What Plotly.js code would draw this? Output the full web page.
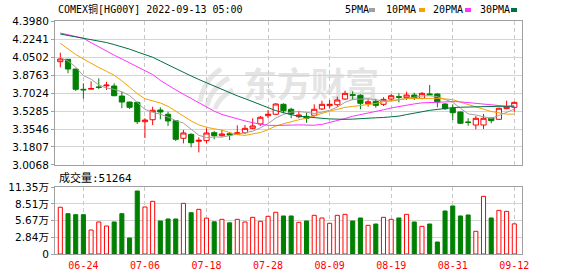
<!DOCTYPE html>
<html><head><meta charset="utf-8">
<script src="https://cdn.plot.ly/plotly-3.0.1.min.js"></script>
<style>html,body{margin:0;padding:0;background:#fff}#chart{width:578px;height:276px}</style>
</head><body><div id="chart"></div>
<script>
const dates = ['06-21','06-22','06-23','06-24','06-27','06-28','06-29','06-30','07-01','07-04',
'07-05','07-06','07-07','07-08','07-11','07-12','07-13','07-14','07-15','07-18',
'07-19','07-20','07-21','07-22','07-25','07-26','07-27','07-28','07-29','08-01',
'08-02','08-03','08-04','08-05','08-08','08-09','08-10','08-11','08-12','08-15',
'08-16','08-17','08-18','08-19','08-22','08-23','08-24','08-25','08-26','08-29',
'08-30','08-31','09-01','09-02','09-05','09-06','09-07','09-08','09-09','09-12'];
const openP = [4.005,4.028,3.934,3.738,3.740,3.760,3.772,3.770,3.673,3.615,
3.612,3.425,3.444,3.538,3.497,3.435,3.265,3.303,3.236,3.242,
3.319,3.290,3.309,3.303,3.319,3.361,3.403,3.483,3.497,3.593,
3.545,3.473,3.477,3.487,3.548,3.580,3.589,3.644,3.686,3.680,
3.599,3.622,3.593,3.644,3.667,3.657,3.683,3.651,3.693,3.693,
3.596,3.555,3.519,3.422,3.393,3.393,3.461,3.448,3.551,3.564];
const highP = [4.092,4.031,3.936,3.796,3.815,3.844,3.811,3.796,3.715,3.618,
3.618,3.458,3.570,3.564,3.522,3.441,3.345,3.313,3.274,3.361,
3.335,3.345,3.326,3.390,3.393,3.458,3.480,3.538,3.603,3.603,
3.560,3.531,3.512,3.593,3.628,3.635,3.667,3.725,3.719,3.690,
3.641,3.647,3.661,3.693,3.699,3.715,3.705,3.712,3.780,3.699,
3.603,3.593,3.522,3.458,3.480,3.500,3.461,3.560,3.628,3.618];
const lowP = [3.951,3.893,3.722,3.647,3.740,3.741,3.731,3.672,3.555,3.548,
3.403,3.268,3.393,3.448,3.384,3.239,3.216,3.178,3.129,3.216,
3.255,3.280,3.248,3.300,3.306,3.352,3.384,3.458,3.490,3.506,
3.458,3.458,3.415,3.473,3.538,3.555,3.570,3.635,3.635,3.545,
3.570,3.560,3.577,3.628,3.612,3.635,3.635,3.641,3.683,3.564,
3.538,3.441,3.403,3.386,3.352,3.355,3.410,3.448,3.545,3.522];
const closeP = [4.031,3.934,3.738,3.733,3.745,3.757,3.778,3.676,3.615,3.564,
3.425,3.441,3.535,3.519,3.432,3.255,3.316,3.222,3.245,3.316,
3.290,3.306,3.297,3.319,3.361,3.384,3.468,3.497,3.596,3.531,
3.500,3.490,3.458,3.545,3.593,3.593,3.635,3.699,3.680,3.603,
3.618,3.583,3.641,3.676,3.661,3.683,3.651,3.699,3.686,3.615,
3.551,3.512,3.410,3.419,3.458,3.458,3.435,3.555,3.570,3.612];
const volume = [79500,68600,66900,66900,40800,54500,47600,54500,68600,27200,
107200,80000,89600,56200,59600,59600,86200,70300,76000,61000,
54800,59000,53000,59000,54500,62400,55600,64100,71000,64700,
64700,53900,56200,65800,61300,52200,65800,67500,56200,61300,
48800,51000,62400,59000,61300,67500,54500,47100,51000,20400,
73200,81700,64700,66400,38600,98100,61300,74300,72600,51264];
const volDir = [1,-1,-1,-1,1,1,1,-1,-1,-1,
-1,1,1,-1,-1,-1,1,-1,1,1,
-1,1,-1,1,1,1,1,1,1,-1,
-1,1,-1,1,1,1,1,1,-1,-1,
1,-1,1,1,-1,1,-1,1,-1,-1,
-1,-1,-1,-1,1,1,-1,1,1,1];
const ma5 = [4.045,4.011,3.953,3.870,3.836,3.781,3.750,3.738,3.714,3.678,
3.612,3.544,3.516,3.497,3.470,3.436,3.411,3.349,3.294,3.271,
3.278,3.276,3.291,3.306,3.315,3.333,3.366,3.406,3.461,3.495,
3.518,3.523,3.515,3.505,3.517,3.536,3.565,3.613,3.640,3.642,
3.647,3.637,3.625,3.624,3.636,3.649,3.662,3.674,3.676,3.667,
3.640,3.613,3.555,3.501,3.490,3.471,3.456,3.485,3.515,3.546];
const ma10 = [4.182,4.125,4.075,4.031,3.988,3.949,3.912,3.874,3.820,3.757,
3.697,3.647,3.627,3.606,3.574,3.524,3.478,3.432,3.395,3.371,
3.357,3.344,3.320,3.300,3.293,3.306,3.321,3.348,3.383,3.405,
3.426,3.444,3.460,3.483,3.506,3.527,3.544,3.564,3.572,3.580,
3.591,3.601,3.619,3.632,3.639,3.648,3.650,3.650,3.650,3.651,
3.645,3.638,3.614,3.589,3.568,3.546,3.524,3.510,3.498,3.498];
const ma20 = [4.282,4.266,4.249,4.231,4.189,4.147,4.105,4.068,4.031,3.994,
3.957,3.920,3.881,3.824,3.775,3.733,3.690,3.650,3.607,3.564,
3.527,3.495,3.473,3.453,3.433,3.415,3.399,3.390,3.389,3.388,
3.392,3.394,3.390,3.391,3.399,3.416,3.432,3.456,3.478,3.492,
3.509,3.523,3.540,3.558,3.573,3.588,3.597,3.607,3.611,3.615,
3.618,3.619,3.617,3.610,3.604,3.597,3.587,3.580,3.574,3.575];
const ma30 = [4.272,4.259,4.246,4.234,4.220,4.208,4.190,4.170,4.149,4.126,
4.099,4.073,4.048,4.011,3.973,3.936,3.901,3.867,3.833,3.801,
3.770,3.738,3.704,3.675,3.648,3.621,3.594,3.561,3.532,3.511,
3.493,3.478,3.469,3.463,3.458,3.452,3.447,3.448,3.450,3.452,
3.458,3.463,3.466,3.472,3.479,3.494,3.505,3.521,3.535,3.545,
3.554,3.561,3.565,3.568,3.571,3.574,3.573,3.574,3.574,3.576];
const priceTicks = [3.0068,3.1807,3.3546,3.5285,3.7024,3.8763,4.0502,4.2241,4.3980];
const priceTickText = ['3.0068','3.1807','3.3546','3.5285','3.7024','3.8763','4.0502','4.2241','4.3980'];
const volTicks = [0,28375,56750,85125,113500];
const volTickText = ['0','2.84万','5.67万','8.51万','11.35万'];
const dateTicks = ['06-24','07-06','07-18','07-28','08-09','08-19','08-31','09-12'];
const maNames = ['5PMA','10PMA','20PMA','30PMA'];
const titleText = 'COMEX铜[HG00Y] 2022-09-13 05:00';

const RED='#ff0000', GREEN='#008000';
const maColors = ['#a0a0a0','#f5a200','#ff33ff','#007040'];
const L=55, R=522, T=21, B=254, W=R-L, H=B-T;
const px = x => (x-L)/W, py = y => (B-y)/H;
const mono = 'DejaVu Sans Mono, Noto Sans CJK SC, monospace';

const traces = [{
  type:'candlestick', x:dates, open:openP, high:highP, low:lowP, close:closeP,
  xaxis:'x', yaxis:'y', whiskerwidth:0, hoverinfo:'skip',
  increasing:{line:{color:RED,width:1}, fillcolor:'#ffffff'},
  decreasing:{line:{color:GREEN,width:1}, fillcolor:GREEN}
}];
[ma5,ma10,ma20,ma30].forEach((m,i)=>traces.push({
  type:'scatter', mode:'lines', x:dates, y:m, xaxis:'x', yaxis:'y',
  line:{color:maColors[i], width:1}, hoverinfo:'skip'
}));
traces.push({
  type:'bar', x:dates, y:volume, xaxis:'x2', yaxis:'y2', hoverinfo:'skip',
  marker:{color:volDir.map(d=>d>0?'#ffffff':GREEN), line:{color:volDir.map(d=>d>0?RED:GREEN), width:1}}
});

const xbase = {type:'category', categoryorder:'array', categoryarray:dates, range:[-0.69,60.0],
  tickvals:dateTicks, ticktext:dateTicks, ticks:'', showgrid:true, gridcolor:'#c8c8c8', griddash:'4px,3px', gridwidth:1,
  showline:true, mirror:true, linecolor:'#a0a0a0', linewidth:1, zeroline:false, fixedrange:true};
const ybase = {showgrid:true, gridcolor:'#d4d4d4', gridwidth:1, showline:true, mirror:true,
  linecolor:'#a0a0a0', linewidth:1, zeroline:false, ticks:'outside', ticklen:3, tickcolor:'#a0a0a0',
  tickfont:{family:'DejaVu Sans, sans-serif', size:10.5, color:'#000'}, fixedrange:true};

const annotations = [
  {text:titleText, x:px(56), y:py(9.5), xanchor:'left', yanchor:'middle'},
  {text:'成交量:'+volume[volume.length-1], x:px(57), y:py(177.5), xanchor:'left', yanchor:'middle', size:11}
];
const legX = [342.5,384,431,478], sqX=[369,419,465,511];
maNames.forEach((n,i)=>annotations.push({text:n, x:px(legX[i]), y:py(9.5), xanchor:'left', yanchor:'middle'}));
const shapes = maNames.map((n,i)=>({type:'rect', xref:'paper', yref:'paper', x0:px(sqX[i]), x1:px(sqX[i]+6),
  y0:py(12), y1:py(8), fillcolor:maColors[i], line:{width:0}}));
shapes.push({type:'rect', xref:'paper', yref:'paper', x0:px(238), x1:px(384), y0:py(105), y1:py(70),
  line:{width:0}, fillcolor:'rgba(0,0,0,0)', layer:'below',
  label:{text:'东方财富', font:{family:'Noto Sans CJK SC', size:34, color:'#e4e4e4', weight:700}, textposition:'middle center'}});
[[200,102,204,80,221,69],[207,106,211,88,229,78],[215,109,219,97,233,90]].forEach(s=>shapes.push({
  type:'path', xref:'paper', yref:'paper', layer:'below', line:{color:'#e6e6e6', width:5},
  path:`M ${px(s[0])},${py(s[1])} Q ${px(s[2])},${py(s[3])} ${px(s[4])},${py(s[5])}`}));

const layout = {
  width:578, height:276, margin:{l:L, r:578-R, t:T, b:276-B, pad:0},
  paper_bgcolor:'#fff', plot_bgcolor:'#fff', showlegend:false,
  boxgap:0.25, boxgroupgap:0.1, bargap:0.47,
  xaxis:Object.assign({}, xbase, {anchor:'y', showticklabels:false, rangeslider:{visible:false}}),
  xaxis2:Object.assign({}, xbase, {anchor:'y2', showticklabels:true, ticklabelstandoff:2,
    tickfont:{family:mono, size:10, color:RED}}),
  yaxis:Object.assign({}, ybase, {domain:[0.382,1], range:[3.0068,4.3980], tickvals:priceTicks, ticktext:priceTickText}),
  yaxis2:Object.assign({}, ybase, {domain:[0,0.2863], range:[0,113500], tickvals:volTicks, ticktext:volTickText,
    tickfont:{family:'DejaVu Sans, Noto Sans CJK SC, sans-serif', size:10.5, color:'#000'}}),
  annotations:annotations.map(a=>({xref:'paper', yref:'paper', showarrow:false, text:a.text, x:a.x, y:a.y,
    xanchor:a.xanchor, yanchor:a.yanchor, font:{family:mono, size:a.size||10, color:'#000'}})),
  shapes:shapes
};
Plotly.newPlot('chart', traces, layout, {staticPlot:true, displayModeBar:false});
</script></body></html>
